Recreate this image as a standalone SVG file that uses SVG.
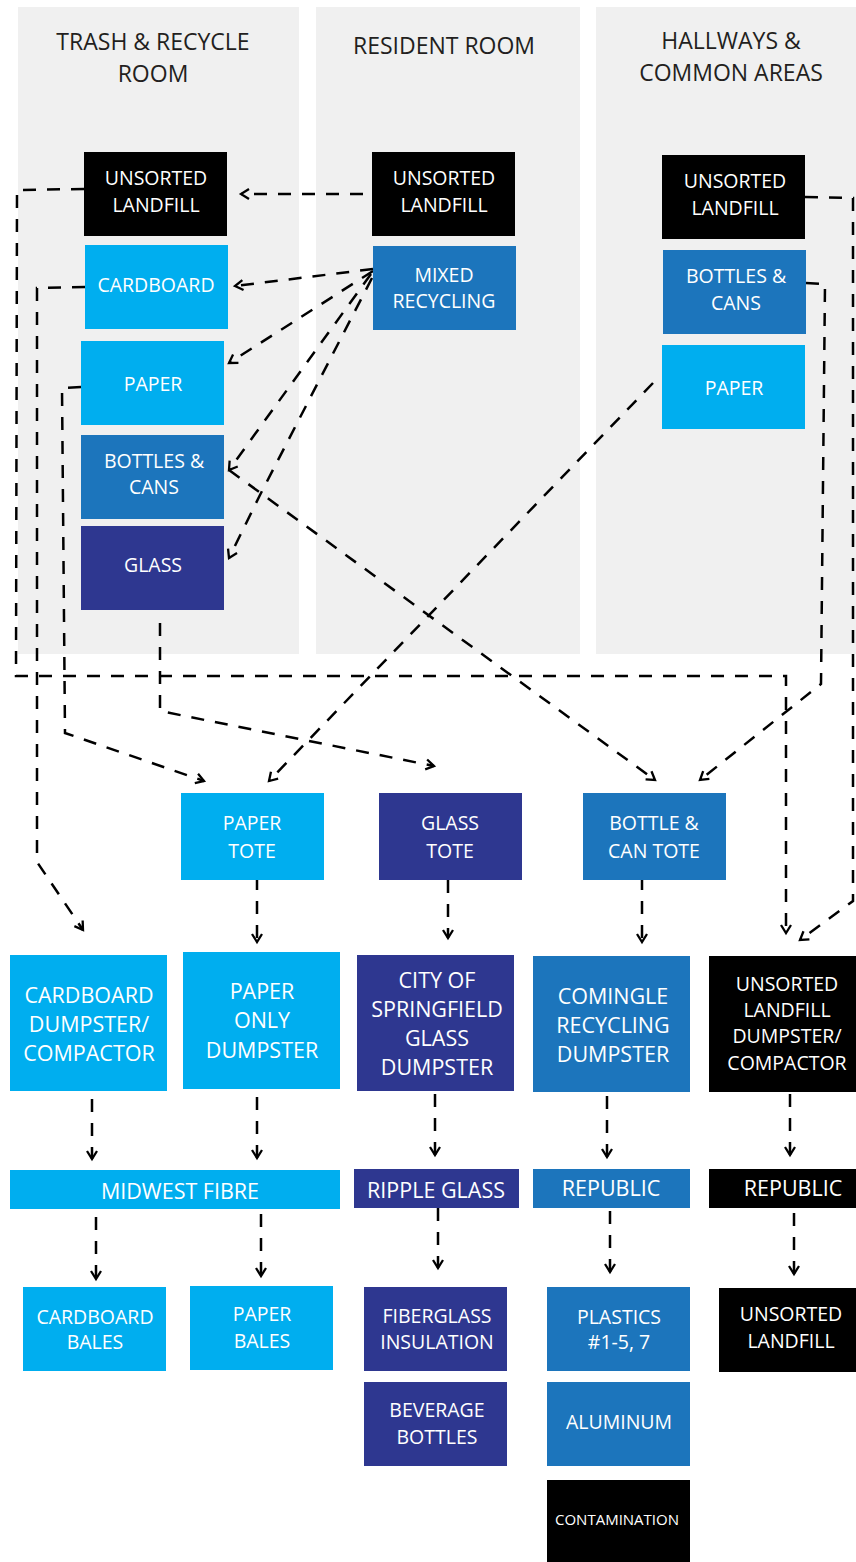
<svg xmlns="http://www.w3.org/2000/svg" width="856" height="1562" viewBox="0 0 856 1562">
<style>
.panel{fill:#f0f0f0}
.title{font-family:"Open Sans","Liberation Sans",sans-serif;font-size:23px;fill:#231f20;text-anchor:middle}
.t{font-family:"Open Sans","Liberation Sans",sans-serif;font-size:19.5px;fill:#fff;text-anchor:middle}
.tl{font-family:"Open Sans","Liberation Sans",sans-serif;font-size:21.5px;fill:#fff;text-anchor:middle}
.ts{font-family:"Open Sans","Liberation Sans",sans-serif;font-size:15px;fill:#fff;text-anchor:middle}
.blk{fill:#000}
.cyan{fill:#00aeef}
.mid{fill:#1c75bc}
.navy{fill:#2e3790}
.conn{fill:none;stroke:#000;stroke-width:2.5;stroke-dasharray:13 11;marker-end:url(#arr)}
</style>
<defs>
<marker id="arr" markerUnits="userSpaceOnUse" markerWidth="14" markerHeight="14" refX="11" refY="7" orient="auto">
<path d="M3,2 L11,7 L3,12" fill="none" stroke="#000" stroke-width="2.3"/>
</marker>
</defs>

<g id="panels">
<rect class="panel" x="18" y="7" width="281" height="647"/>
<rect class="panel" x="316" y="7" width="264" height="647"/>
<rect class="panel" x="596" y="7" width="260" height="647"/>
<text class="title" x="153" y="50">TRASH &amp; RECYCLE</text>
<text class="title" x="153" y="82">ROOM</text>
<text class="title" x="444" y="54">RESIDENT ROOM</text>
<text class="title" x="731" y="49">HALLWAYS &amp;</text>
<text class="title" x="731" y="81">COMMON AREAS</text>
</g>

<g id="connectors">
<path class="conn" d="M363,194 L241,194"/>
<path class="conn" d="M84,189 L17,190 L16,676 L786,676 L786,933"/>
<path class="conn" d="M85,287 L37,288 L37,862 L83,930"/>
<path class="conn" d="M81,387 L62,388 L65,733 L204,781"/>
<path class="conn" d="M160,623 L160,711 L434,766"/>
<path class="conn" d="M373,269 L235,286"/>
<path class="conn" d="M373,271 L229,363"/>
<path class="conn" d="M371,274 L229,470"/>
<path class="conn" d="M372,278 L260,495 L229,558"/>
<path class="conn" d="M229,470 L655,780"/>
<path class="conn" d="M653,383 L269,781"/>
<path class="conn" d="M806,283 L825,284 L821,684 L700,780"/>
<path class="conn" d="M805,197 L853,198 L853,901 L800,940"/>
<path class="conn" d="M257,877 L257,942"/>
<path class="conn" d="M448,880 L448,938"/>
<path class="conn" d="M642,877 L642,942"/>
<path class="conn" d="M92,1099 L92,1159"/>
<path class="conn" d="M257,1097 L257,1158"/>
<path class="conn" d="M435,1094 L435,1155"/>
<path class="conn" d="M607,1096 L607,1157"/>
<path class="conn" d="M790,1094 L790,1155"/>
<path class="conn" d="M96,1217 L96,1279"/>
<path class="conn" d="M261,1214 L261,1276"/>
<path class="conn" d="M438,1208 L438,1268"/>
<path class="conn" d="M610,1211 L610,1272"/>
<path class="conn" d="M794,1213 L794,1274"/>
</g>

<g id="tr_unsorted"><rect class="blk" x="84" y="152" width="143" height="84"/><text class="t" x="156" y="185">UNSORTED</text><text class="t" x="156" y="212">LANDFILL</text></g>
<g id="tr_cardboard"><rect class="cyan" x="85" y="245" width="143" height="84"/><text class="t" x="156" y="292">CARDBOARD</text></g>
<g id="tr_paper"><rect class="cyan" x="81" y="341" width="143" height="84"/><text class="t" x="153" y="391">PAPER</text></g>
<g id="tr_bottles"><rect class="mid" x="81" y="435" width="143" height="84"/><text class="t" x="154" y="468">BOTTLES &amp;</text><text class="t" x="154" y="494">CANS</text></g>
<g id="tr_glass"><rect class="navy" x="81" y="526" width="143" height="84"/><text class="t" x="153" y="572">GLASS</text></g>

<g id="rr_unsorted"><rect class="blk" x="372" y="152" width="143" height="84"/><text class="t" x="444" y="185">UNSORTED</text><text class="t" x="444" y="212">LANDFILL</text></g>
<g id="rr_mixed"><rect class="mid" x="373" y="246" width="143" height="84"/><text class="t" x="444" y="282">MIXED</text><text class="t" x="444" y="308">RECYCLING</text></g>

<g id="hw_unsorted"><rect class="blk" x="662" y="155" width="143" height="84"/><text class="t" x="735" y="188">UNSORTED</text><text class="t" x="735" y="215">LANDFILL</text></g>
<g id="hw_bottles"><rect class="mid" x="663" y="250" width="143" height="84"/><text class="t" x="736" y="283">BOTTLES &amp;</text><text class="t" x="736" y="310">CANS</text></g>
<g id="hw_paper"><rect class="cyan" x="662" y="345" width="143" height="84"/><text class="t" x="734" y="395">PAPER</text></g>

<g id="paper_tote"><rect class="cyan" x="181" y="793" width="143" height="87"/><text class="t" x="252" y="830">PAPER</text><text class="t" x="252" y="858">TOTE</text></g>
<g id="glass_tote"><rect class="navy" x="379" y="793" width="143" height="87"/><text class="t" x="450" y="830">GLASS</text><text class="t" x="450" y="858">TOTE</text></g>
<g id="bc_tote"><rect class="mid" x="583" y="793" width="143" height="87"/><text class="t" x="654" y="830">BOTTLE &amp;</text><text class="t" x="654" y="858">CAN TOTE</text></g>

<g id="cb_dumpster"><rect class="cyan" x="10" y="955" width="157" height="136"/><text class="tl" x="89" y="1003">CARDBOARD</text><text class="tl" x="89" y="1032">DUMPSTER/</text><text class="tl" x="89" y="1061">COMPACTOR</text></g>
<g id="paper_dumpster"><rect class="cyan" x="183" y="952" width="157" height="137"/><text class="tl" x="262" y="999">PAPER</text><text class="tl" x="262" y="1028">ONLY</text><text class="tl" x="262" y="1058">DUMPSTER</text></g>
<g id="city_glass"><rect class="navy" x="357" y="955" width="157" height="136"/><text class="tl" x="437" y="988">CITY OF</text><text class="tl" x="437" y="1017">SPRINGFIELD</text><text class="tl" x="437" y="1046">GLASS</text><text class="tl" x="437" y="1075">DUMPSTER</text></g>
<g id="comingle"><rect class="mid" x="533" y="956" width="157" height="136"/><text class="tl" x="613" y="1004">COMINGLE</text><text class="tl" x="613" y="1033">RECYCLING</text><text class="tl" x="613" y="1062">DUMPSTER</text></g>
<g id="unsorted_dumpster"><rect class="blk" x="709" y="956" width="147" height="136"/><text class="t" x="787" y="991">UNSORTED</text><text class="t" x="787" y="1017">LANDFILL</text><text class="t" x="787" y="1043">DUMPSTER/</text><text class="t" x="787" y="1070">COMPACTOR</text></g>

<g id="midwest"><rect class="cyan" x="10" y="1170" width="330" height="39"/><text class="tl" x="180" y="1199">MIDWEST FIBRE</text></g>
<g id="ripple"><rect class="navy" x="354" y="1169" width="165" height="39"/><text class="tl" x="436" y="1198">RIPPLE GLASS</text></g>
<g id="republic1"><rect class="mid" x="533" y="1169" width="157" height="39"/><text class="tl" x="611" y="1196">REPUBLIC</text></g>
<g id="republic2"><rect class="blk" x="709" y="1169" width="147" height="39"/><text class="tl" x="793" y="1196">REPUBLIC</text></g>

<g id="cb_bales"><rect class="cyan" x="23" y="1287" width="143" height="84"/><text class="t" x="95" y="1324">CARDBOARD</text><text class="t" x="95" y="1349">BALES</text></g>
<g id="paper_bales"><rect class="cyan" x="190" y="1286" width="143" height="84"/><text class="t" x="262" y="1321">PAPER</text><text class="t" x="262" y="1348">BALES</text></g>
<g id="fiberglass"><rect class="navy" x="364" y="1287" width="143" height="84"/><text class="t" x="437" y="1323">FIBERGLASS</text><text class="t" x="437" y="1349">INSULATION</text></g>
<g id="beverage"><rect class="navy" x="364" y="1382" width="143" height="84"/><text class="t" x="437" y="1417">BEVERAGE</text><text class="t" x="437" y="1444">BOTTLES</text></g>
<g id="plastics"><rect class="mid" x="547" y="1287" width="143" height="84"/><text class="t" x="619" y="1324">PLASTICS</text><text class="t" x="619" y="1349">#1-5, 7</text></g>
<g id="aluminum"><rect class="mid" x="547" y="1382" width="143" height="84"/><text class="t" x="619" y="1429">ALUMINUM</text></g>
<g id="contamination"><rect class="blk" x="547" y="1480" width="143" height="82"/><text class="ts" x="617" y="1525">CONTAMINATION</text></g>
<g id="unsorted_final"><rect class="blk" x="719" y="1288" width="143" height="84"/><text class="t" x="791" y="1321">UNSORTED</text><text class="t" x="791" y="1348">LANDFILL</text></g>
</svg>
